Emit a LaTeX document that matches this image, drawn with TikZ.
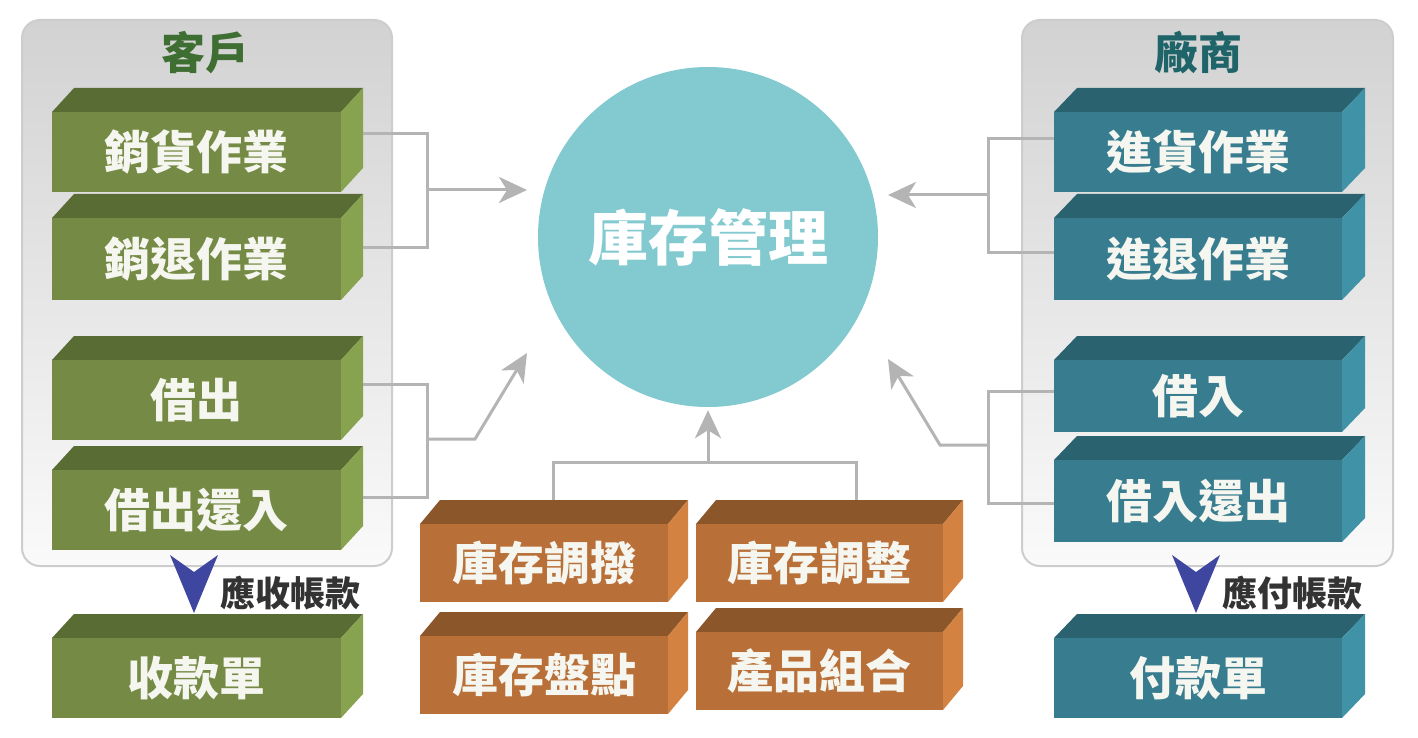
\documentclass[tikz,border=0pt]{standalone}
\usepackage{fontspec}
\newfontfamily\cjk{Noto Sans CJK TC}
\usetikzlibrary{arrows.meta,calc}
\definecolor{gfront}{HTML}{758B45}
\definecolor{gtop}{HTML}{586C34}
\definecolor{gside}{HTML}{87A350}
\definecolor{tfront}{HTML}{377D8F}
\definecolor{ttop}{HTML}{2A6270}
\definecolor{tside}{HTML}{4092A7}
\definecolor{ofront}{HTML}{B87038}
\definecolor{otop}{HTML}{8B572A}
\definecolor{oside}{HTML}{D48241}
\definecolor{circ}{HTML}{82CACF}
\definecolor{titleg}{HTML}{3F6E32}
\definecolor{titlet}{HTML}{1E6469}
\definecolor{markercol}{HTML}{3E46A0}
\definecolor{connc}{HTML}{B4B4B4}
\definecolor{boxwhite}{HTML}{F6F6F0}
\definecolor{ptop}{HTML}{D2D2D2}
\definecolor{pbot}{HTML}{FAFAFA}
\definecolor{pborder}{HTML}{CDCDCD}
\definecolor{labc}{HTML}{333333}
\newcommand\mkbox[9]{%
  \fill[#8top] (#2,#3) -- ++(#6,-#7) -- (#4+#6,#3-#7) -- (#4,#3) -- cycle;
  \fill[#8side] (#4,#3) -- (#4+#6,#3-#7) -- (#4+#6,#5-#7) -- (#4,#5) -- cycle;
  \pgfmathsetmacro\cw{#4-#2}\pgfmathsetmacro\ch{#5-#3}%
  \node[boxtext, fill=#8front, minimum width=\cw pt, minimum height=\ch pt, anchor=north west] (#1) at (#2,#3) {#9};
}
\begin{document}
\begin{tikzpicture}[x=1pt,y=-1pt,
  boxtext/.style={text=boxwhite, font=\cjk\bfseries\fontsize{46}{50}\selectfont, inner sep=0pt},
  titletext/.style={font=\cjk\bfseries\fontsize{44}{48}\selectfont, inner sep=0pt},
  labtext/.style={text=labc, font=\cjk\bfseries\fontsize{35}{40}\selectfont, inner sep=0pt},
  conn/.style={draw=connc, line width=3pt},
  carrow/.style={conn, -{Stealth[length=28pt,width=26pt,inset=8pt]}},
  panel/.style={top color=ptop, bottom color=pbot, draw=pborder, line width=2pt, rounded corners=18pt},
  downmark/.style={fill=markercol}]
\useasboundingbox (0,0) rectangle (1418,738);
\fill[white] (0,0) rectangle (1418,738);
% panels
\shade[panel] (22,20) rectangle (392,566);
\shade[panel] (1022,20) rectangle (1393,566);
\node[titletext, text=titleg] (tcust) at (205,53) {客戶};
\node[titletext, text=titlet] (tvend) at (1198,53) {廠商};
% central circle
\node[circle, fill=circ, minimum size=340pt, inner sep=0pt, text=white,
      font=\cjk\bfseries\fontsize{60}{64}\selectfont] (inv) at (708,237) {庫存管理};
% left boxes
\mkbox{s1}{52}{112}{341}{192}{22}{24}{g}{銷貨作業}
\mkbox{s2}{52}{218}{341}{300}{22}{24}{g}{銷退作業}
\mkbox{s3}{52}{360}{341}{440}{22}{24}{g}{借出}
\mkbox{s4}{52}{470}{341}{550}{22}{24}{g}{借出還入}
\mkbox{s5}{52}{638}{341}{718}{22}{24}{g}{收款單}
% right boxes
\mkbox{t1}{1054}{112}{1342}{192}{23}{24}{t}{進貨作業}
\mkbox{t2}{1054}{218}{1342}{300}{23}{24}{t}{進退作業}
\mkbox{t3}{1054}{360}{1342}{432}{23}{24}{t}{借入}
\mkbox{t4}{1054}{460}{1342}{542}{23}{24}{t}{借入還出}
\mkbox{t5}{1054}{638}{1342}{718}{23}{24}{t}{付款單}
% orange boxes
\mkbox{o1}{420}{524}{668}{602}{20}{24}{o}{庫存調撥}
\mkbox{o2}{696}{524}{943}{602}{20}{24}{o}{庫存調整}
\mkbox{o3}{420}{636}{668}{714}{20}{24}{o}{庫存盤點}
\mkbox{o4}{696}{632}{943}{710}{20}{24}{o}{產品組合}
% junction coordinates
\coordinate (jl1) at (427,190);
\coordinate (al1) at (527,190);
\coordinate (jl2) at (427,439);
\coordinate (bl2) at (475,439);
\coordinate (al2) at (527,353);
\coordinate (jr1) at (988,195);
\coordinate (ar1) at (888,195);
\coordinate (jr2) at (988,445);
\coordinate (br2) at (940,445);
\coordinate (ar2) at (888,359);
\coordinate (jb) at (708,462);
% left connectors
\draw[conn] ([xshift=22pt,yshift=19pt]s1.east) -| (jl1) |- ([xshift=22pt,yshift=12pt]s2.east);
\draw[carrow] (jl1) -- (al1);
\draw[conn] ([xshift=22pt,yshift=16pt]s3.east) -| (jl2) |- ([xshift=22pt,yshift=13pt]s4.east);
\draw[carrow] (jl2) -- (bl2) -- (al2);
% right connectors
\draw[conn] ([yshift=14pt]t1.west) -| (jr1) |- ([yshift=7pt]t2.west);
\draw[carrow] (jr1) -- (ar1);
\draw[conn] ([yshift=5pt]t3.west) -| (jr2) |- ([yshift=-2pt]t4.west);
\draw[carrow] (jr2) -- (br2) -- (ar2);
% bottom connectors
\draw[conn] ([xshift=9pt,yshift=24pt]o1.north) |- (jb) -| ([xshift=36.5pt,yshift=24pt]o2.north);
\draw[carrow] (jb) -- ([yshift=-3pt]inv.south);
% down markers
\fill[downmark] (170,555) -- (194,572) -- (218,555) -- (194,613) -- cycle;
\fill[downmark] (1172,555) -- (1196,572) -- (1220,555) -- (1196,613) -- cycle;
\node[labtext] (lrec) at (290,593) {應收帳款};
\node[labtext] (lpay) at (1292,593) {應付帳款};
\end{tikzpicture}
\end{document}
